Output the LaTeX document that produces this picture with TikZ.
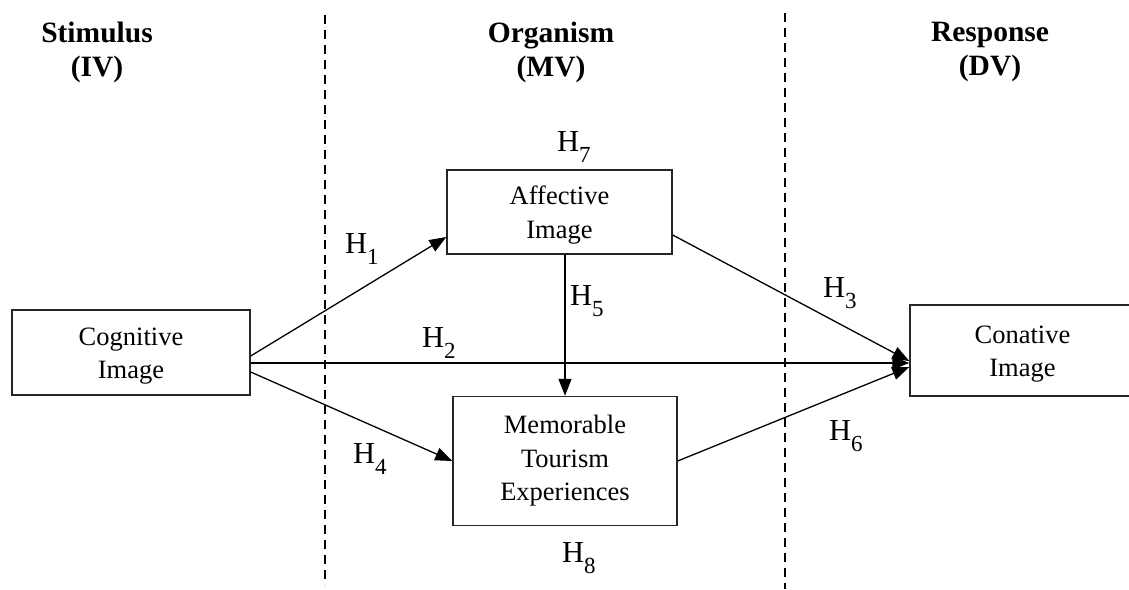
\documentclass[tikz,border=0pt]{standalone}
\usepackage{fontspec}
\setmainfont{Liberation Serif}
\usetikzlibrary{positioning,arrows.meta}
\newcommand{\hsub}[1]{H\raisebox{-11pt}{\fontsize{23}{23}\selectfont #1}}
\newcommand{\topline}{\rule{0pt}{25pt}}

\begin{document}
\begin{tikzpicture}[x=1pt,y=-1pt]
    \tikzset{
        every node/.style={inner sep=0pt},
        construct/.style={rectangle, draw=black!85, line width=1.4pt, fill=white, align=center, font=\fontsize{26.5}{33.5}\selectfont},
        header/.style={align=center, anchor=north, font=\fontsize{29.5}{34}\selectfont\bfseries},
        hyp/.style={anchor=base west, font=\fontsize{30.5}{30}\selectfont},
        myarrow/.style={draw, line width=1.3pt, -{Triangle[length=17pt,width=13pt]}},
        divider/.style={draw, line width=1.6pt, dash pattern=on 9pt off 6pt},
    }
    \useasboundingbox (0,0) rectangle (1129,589);

    \node[header] (head1) at (97,22) {Stimulus\\(IV)};
    \node[header] (head2) at (551,22) {Organism\\(MV)};
    \node[header] (head3) at (990,22) {Response\\(DV)};

    \coordinate (AuxNode01) at (325,15);
    \coordinate (AuxNode02) at (325,585);
    \coordinate (AuxNode03) at (785,13);
    \coordinate (AuxNode04) at (785,589);
    \path[divider] (AuxNode01) -- (AuxNode02);
    \path[divider] (AuxNode03) -- (AuxNode04);

    \node[construct, minimum width=238pt, minimum height=85pt] (itemCog) at (131,352.5) {\topline Cognitive\\Image};
    \node[construct, minimum width=225pt, minimum height=84pt] (itemAff) at (559.5,212) {\topline Affective\\Image};
    \node[construct, minimum width=224pt, minimum height=129pt] (itemMem) at (565,461) {Memorable\\Tourism\\Experiences};
    \node[construct, minimum width=225pt, minimum height=91pt] (itemCon) at (1022.5,350.5) {\topline Conative\\Image};

    \path[myarrow] ([yshift=-3.5pt]itemCog.east) -- ([yshift=-25pt]itemAff.west);
    \path[myarrow] ([yshift=-10.5pt]itemCog.east) -- ([yshift=-12.5pt]itemCon.west);
    \path[myarrow] ([yshift=-19.5pt]itemCog.east) -- (itemMem.west);
    \path[myarrow] ([yshift=-23pt]itemAff.east) -- ([yshift=-10.5pt]itemCon.west);
    \path[myarrow] (itemAff.south -| itemMem.north) -- (itemMem.north);
    \path[myarrow] (itemMem.east) -- ([yshift=-16.5pt]itemCon.west);

    \node[hyp] (hyp1) at (345,253) {\hsub{1}};
    \node[hyp] (hyp2) at (422,347) {\hsub{2}};
    \node[hyp] (hyp3) at (823,297) {\hsub{3}};
    \node[hyp] (hyp4) at (353,463) {\hsub{4}};
    \node[hyp] (hyp5) at (570,305) {\hsub{5}};
    \node[hyp] (hyp6) at (829,440) {\hsub{6}};
    \node[hyp] (hyp7) at (557,151) {\hsub{7}};
    \node[hyp] (hyp8) at (562,562) {\hsub{8}};
\end{tikzpicture}
\end{document}
